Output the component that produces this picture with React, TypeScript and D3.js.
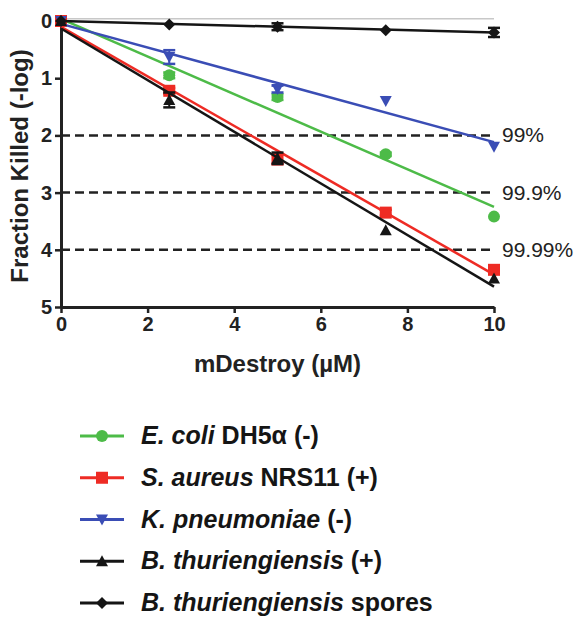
import React, { useEffect, useRef } from 'react';
import * as d3 from 'd3';

// concentrations (µM)
const doses = [0, 2.5, 5, 7.5, 10];

// fraction killed (-log) per strain
const ecoli = [0, 0.95, 1.33, 2.33, 3.42];
const saureus = [0, 1.22, 2.42, 3.35, 4.35];
const kpneu = [0, 0.63, 1.19, 1.4, 2.2];
const bthur = [0, 1.38, 2.4, 3.66, 4.5];
const spores = [0, 0.06, 0.1, 0.16, 0.2];

// error bars (half-height)
const ecoliErr = [0, 0.05, 0.05, 0.03, 0];
const saureusErr = [0, 0.05, 0.08, 0.05, 0.05];
const kpneuErr = [0, 0.12, 0.06, 0, 0];
const bthurErr = [0, 0.13, 0.1, 0, 0];
const sporesErr = [0, 0, 0.06, 0, 0.08];

const xTicks = [0, 2, 4, 6, 8, 10];
const yTicks = [0, 1, 2, 3, 4, 5];
const thresholds = [2, 3, 4];
const thresholdLabels = ['99%', '99.9%', '99.99%'];

const series = [
  { name: 'E. coli', rest: ' DH5α (-)', values: ecoli, err: ecoliErr, color: '#4dbb48', symbol: 'circle' },
  { name: 'S. aureus', rest: ' NRS11 (+)', values: saureus, err: saureusErr, color: '#ee2b24', symbol: 'square' },
  { name: 'K. pneumoniae', rest: ' (-)', values: kpneu, err: kpneuErr, color: '#3a4db5', symbol: 'down' },
  { name: 'B. thuriengiensis', rest: ' (+)', values: bthur, err: bthurErr, color: '#151515', symbol: 'up' },
  { name: 'B. thuriengiensis', rest: ' spores', values: spores, err: sporesErr, color: '#151515', symbol: 'diamond' },
];

const FONT = '"Liberation Sans", Arial, sans-serif';

function drawMarker(g, symbol, color) {
  if (symbol === 'circle') {
    g.append('circle').attr('r', 6).attr('fill', color);
  } else if (symbol === 'square') {
    g.append('rect').attr('x', -6).attr('y', -6).attr('width', 12).attr('height', 12).attr('fill', color);
  } else if (symbol === 'down') {
    g.append('path').attr('d', 'M-6,-5L6,-5L0,6Z').attr('fill', color);
  } else if (symbol === 'up') {
    g.append('path').attr('d', 'M-6,5L6,5L0,-6Z').attr('fill', color);
  } else {
    g.append('path').attr('d', 'M0,-6L6,0L0,6L-6,0Z').attr('fill', color);
  }
}

function fit(xs, ys) {
  const mx = d3.mean(xs), my = d3.mean(ys);
  const sxy = d3.sum(xs, (x, i) => (x - mx) * (ys[i] - my));
  const sxx = d3.sum(xs, x => (x - mx) ** 2);
  const slope = sxy / sxx;
  return { slope, intercept: my - slope * mx };
}

export default function App() {
  const ref = useRef(null);

  useEffect(() => {
    const svg = d3.select(ref.current);
    svg.selectAll('*').remove();

    const x = d3.scaleLinear().domain([0, 10]).range([61, 494]);
    const y = d3.scaleLinear().domain([0, 5]).range([21, 307]);

    // faint reference line at top
    svg.append('line')
      .attr('x1', x(0)).attr('x2', x(10))
      .attr('y1', y(-0.04)).attr('y2', y(-0.04))
      .attr('stroke', '#c8c8c8').attr('stroke-width', 1.5);

    // threshold dashed lines
    thresholds.forEach((t, i) => {
      svg.append('line')
        .attr('x1', x(0)).attr('x2', x(10))
        .attr('y1', y(t)).attr('y2', y(t))
        .attr('stroke', '#222').attr('stroke-width', 2.5)
        .attr('stroke-dasharray', '9,5');
      svg.append('text')
        .attr('x', x(10) + 8).attr('y', y(t) + 7)
        .attr('font-family', FONT).attr('font-size', 21)
        .attr('fill', '#222')
        .text(thresholdLabels[i]);
    });

    // axes
    const xAxis = svg.append('g')
      .attr('transform', `translate(0,${y(5)})`)
      .call(d3.axisBottom(x).tickValues(xTicks).tickFormat(d3.format('d')).tickSize(6).tickPadding(4).tickSizeOuter(0));
    const yAxis = svg.append('g')
      .attr('transform', `translate(${x(0)},0)`)
      .call(d3.axisLeft(y).tickValues(yTicks).tickFormat(d3.format('d')).tickSize(6).tickPadding(3).tickSizeOuter(0));
    [xAxis, yAxis].forEach(a => {
      a.select('.domain').attr('stroke', '#222').attr('stroke-width', 3);
      a.selectAll('.tick line').attr('stroke', '#222').attr('stroke-width', 2.5);
      a.selectAll('.tick text')
        .attr('font-family', FONT).attr('font-size', 20)
        .attr('font-weight', 'bold').attr('fill', '#222');
    });

    // axis titles
    svg.append('text')
      .attr('x', (x(0) + x(10)) / 2).attr('y', 372)
      .attr('text-anchor', 'middle')
      .attr('font-family', FONT).attr('font-size', 24).attr('font-weight', 'bold')
      .attr('fill', '#222')
      .text('mDestroy (µM)');
    svg.append('text')
      .attr('transform', `translate(28,${(y(0) + y(5)) / 2 + 2}) rotate(-90)`)
      .attr('text-anchor', 'middle')
      .attr('font-family', FONT).attr('font-size', 24).attr('font-weight', 'bold')
      .attr('fill', '#222')
      .text('Fraction Killed (-log)');

    // series
    series.forEach(s => {
      const g = svg.append('g');
      const line = s.symbol === 'diamond'
        ? { slope: (s.values[4] - s.values[0]) / 10, intercept: s.values[0] }
        : fit(doses, s.values);
      g.append('line')
        .attr('x1', x(0)).attr('y1', y(line.intercept))
        .attr('x2', x(10)).attr('y2', y(line.intercept + line.slope * 10))
        .attr('stroke', s.color).attr('stroke-width', 2.5);
      doses.forEach((d, i) => {
        const e = s.err[i];
        if (e > 0) {
          g.append('line')
            .attr('x1', x(d)).attr('x2', x(d))
            .attr('y1', y(s.values[i] - e)).attr('y2', y(s.values[i] + e))
            .attr('stroke', s.color).attr('stroke-width', 2);
          [-e, e].forEach(o => {
            g.append('line')
              .attr('x1', x(d) - 6).attr('x2', x(d) + 6)
              .attr('y1', y(s.values[i] + o)).attr('y2', y(s.values[i] + o))
              .attr('stroke', s.color).attr('stroke-width', 2.5);
          });
        }
        const m = g.append('g').attr('transform', `translate(${x(d)},${y(s.values[i])})`);
        drawMarker(m, s.symbol, s.color);
      });
    });

    // legend
    const legendY = d3.scaleLinear().domain([0, 4]).range([436, 603]);
    series.forEach((s, i) => {
      const g = svg.append('g').attr('transform', `translate(0,${legendY(i)})`);
      g.append('line').attr('x1', 80).attr('x2', 124)
        .attr('stroke', s.color).attr('stroke-width', 3);
      const m = g.append('g').attr('transform', 'translate(102,0)');
      drawMarker(m, s.symbol, s.color);
      const t = g.append('text')
        .attr('x', 141).attr('y', 8)
        .attr('font-family', FONT).attr('font-size', 25).attr('font-weight', 'bold')
        .attr('fill', '#151515');
      t.append('tspan').attr('font-style', 'italic').text(s.name);
      t.append('tspan').text(s.rest);
    });
  }, []);

  return (
    <svg ref={ref} width={585} height={620}
      style={{ position: 'absolute', left: 0, top: 0, background: '#fff' }} />
  );
}
